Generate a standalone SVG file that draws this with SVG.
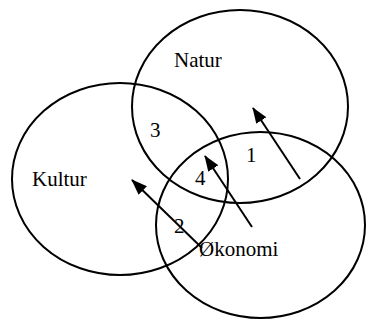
<svg xmlns="http://www.w3.org/2000/svg" width="366" height="320" viewBox="0 0 366 320">
  <defs>
    <marker id="arrow" markerWidth="16" markerHeight="12" refX="15" refY="6" orient="auto" markerUnits="userSpaceOnUse">
      <path d="M0,0 L16,6 L0,12 Z" fill="#000"/>
    </marker>
    <style>
      .ring { fill: none; stroke: #000; stroke-width: 2; }
      .lbl { font-family: "Liberation Serif", "Times New Roman", serif; font-size: 21px; fill: #000; }
      .link { stroke: #000; stroke-width: 2; fill: none; marker-end: url(#arrow); }
    </style>
  </defs>
  <rect width="366" height="320" fill="#fff"/>

  <g id="natur">
    <ellipse class="ring" cx="240" cy="106.5" rx="108" ry="96.5"/>
    <text class="lbl" x="174" y="67">Natur</text>
  </g>
  <g id="kultur">
    <ellipse class="ring" cx="120" cy="179" rx="108" ry="96"/>
    <text class="lbl" x="32" y="186">Kultur</text>
  </g>
  <g id="okonomi">
    <ellipse class="ring" cx="260.5" cy="225" rx="104.5" ry="93"/>
    <text class="lbl" x="199" y="256">Økonomi</text>
  </g>

  <g id="regions">
    <text class="lbl" x="150" y="137">3</text>
    <text class="lbl" x="246" y="162">1</text>
    <text class="lbl" x="195" y="185">4</text>
    <text class="lbl" x="174" y="233">2</text>
  </g>

  <g id="connectors">
    <line class="link" x1="300" y1="179" x2="253" y2="108"/>
    <line class="link" x1="252" y1="227" x2="205" y2="156"/>
    <line class="link" x1="202" y1="248" x2="132" y2="180"/>
  </g>
</svg>
